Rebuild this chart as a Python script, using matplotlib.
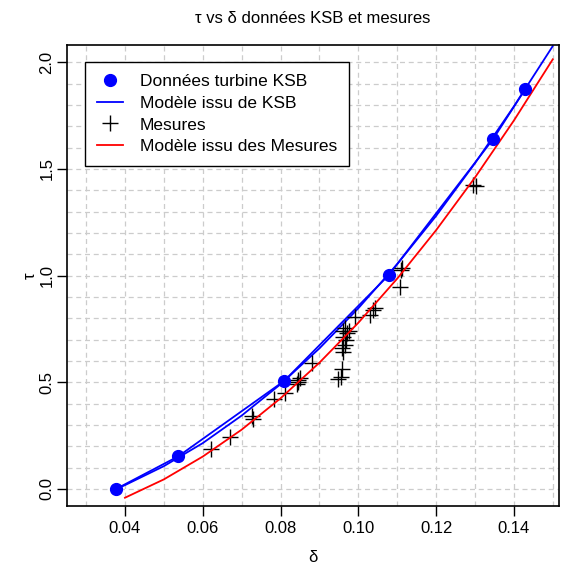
import numpy as np
import matplotlib
matplotlib.use("Agg")
import matplotlib.pyplot as plt

plt.rcParams['font.family'] = ['Liberation Sans', 'DejaVu Sans']

# données KSB
ksb_d = [0.0377, 0.0537, 0.0809, 0.1078, 0.1347, 0.1429]
ksb_tau = [0.0, 0.153, 0.506, 1.002, 1.641, 1.874]

# modèle issu de KSB
mod_ksb_d = [0.0377, 0.04, 0.05, 0.06, 0.07, 0.08, 0.09, 0.10, 0.11, 0.12, 0.13, 0.14, 0.15]
mod_ksb_tau = [0.0, 0.018, 0.107, 0.215, 0.344, 0.491, 0.659, 0.847, 1.054, 1.280, 1.527, 1.793, 2.076]

# mesures
mes_d = [0.0620, 0.0670, 0.0726, 0.0730, 0.0784, 0.0812, 0.0842, 0.0846, 0.0850, 0.0844,
         0.0880, 0.0948, 0.0955, 0.0957, 0.0961, 0.0966, 0.0958, 0.0961, 0.0970, 0.0966,
         0.0975, 0.0960, 0.0968, 0.0991, 0.1030, 0.1038, 0.1042, 0.1107, 0.1111, 0.1113,
         0.1295, 0.1302]
mes_tau = [0.186, 0.246, 0.340, 0.330, 0.420, 0.450, 0.490, 0.503, 0.520, 0.510,
           0.589, 0.514, 0.524, 0.562, 0.644, 0.675, 0.660, 0.714, 0.730, 0.753,
           0.740, 0.740, 0.700, 0.805, 0.816, 0.839, 0.850, 0.948, 1.027, 1.035,
           1.425, 1.420]

# modèle issu des mesures
mod_mes_d = [0.04, 0.05, 0.06, 0.07, 0.08, 0.09, 0.10, 0.11, 0.12, 0.13, 0.14, 0.15]
mod_mes_tau = [-0.041, 0.045, 0.152, 0.278, 0.425, 0.592, 0.779, 0.986, 1.213, 1.460, 1.727, 2.014]

fig = plt.figure(figsize=(5.69, 5.68), dpi=100)
ax = fig.add_axes([67/569, 1-506/568, (559-67)/569, (506-45)/568])

# grille
for x in np.arange(0.03, 0.155, 0.01):
    ax.axvline(x, color='#cccccc', ls=(0, (4, 3)), lw=0.9, zorder=0)
for y in np.arange(0.0, 2.05, 0.1):
    ax.axhline(y, color='#cccccc', ls=(0, (4, 3)), lw=0.9, zorder=0)

ax.plot(ksb_d, ksb_tau, 'o', color='#0000ff', ms=8.5, label='Données turbine KSB', zorder=3)
ax.plot(mod_ksb_d, mod_ksb_tau, '-', color='#0000ff', lw=1.3, label='Modèle issu de KSB', zorder=2)
ax.plot(ksb_d, ksb_tau, '-', color='#0000ff', lw=1.3, zorder=2)
ax.plot(mes_d, mes_tau, '+', color='black', ms=11, mew=1.0, ls='none', label='Mesures', zorder=2)
ax.plot(mod_mes_d, mod_mes_tau, '-', color='#ff0000', lw=1.3, label='Modèle issu des Mesures', zorder=2)

ax.set_xlim(0.0251, 0.1516)
ax.set_ylim(-0.0797, 2.081)
ax.set_xticks([0.04, 0.06, 0.08, 0.10, 0.12, 0.14])
ax.set_xticklabels(['0.04', '0.06', '0.08', '0.10', '0.12', '0.14'])
ax.set_yticks([0.0, 0.5, 1.0, 1.5, 2.0])
ax.set_yticklabels(['0.0', '0.5', '1.0', '1.5', '2.0'], rotation=90, va='center')
ax.tick_params(direction='out', length=7, width=1, labelsize=12)
ax.tick_params(axis='x', pad=4)
ax.tick_params(axis='y', pad=2)
for s in ax.spines.values():
    s.set_linewidth(1.2)

ax.set_xlabel('δ', fontsize=12, labelpad=10)
ax.set_ylabel('τ', fontsize=12, labelpad=1)
ax.set_title('τ vs δ données KSB et mesures', fontsize=12, pad=16)

leg = ax.legend(loc='upper left', bbox_to_anchor=(0.037, 0.963), fontsize=12.5,
                fancybox=False, edgecolor='black', framealpha=1, borderpad=0.7,
                handlelength=1.5, handletextpad=0.95, labelspacing=0.37, borderaxespad=0)
leg.get_frame().set_linewidth(1.0)

fig.savefig('out.png', dpi=100)
